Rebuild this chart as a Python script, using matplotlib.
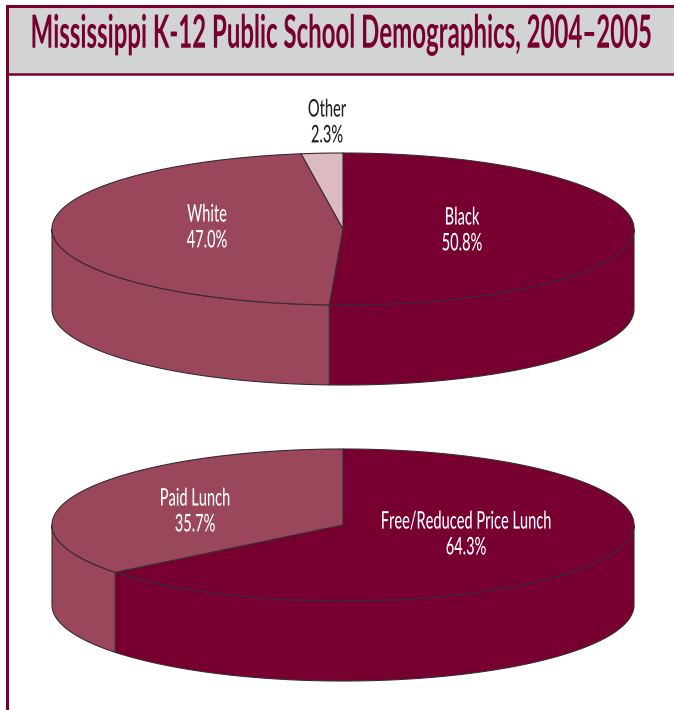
import numpy as np
import matplotlib
matplotlib.use("Agg")
import matplotlib.pyplot as plt
import matplotlib.patheffects as pe
from matplotlib.patches import Polygon, Rectangle
from matplotlib.text import Text
from matplotlib.transforms import Affine2D, Bbox

TITLE = "Mississippi K-12 Public School Demographics, 2004–2005"

race_names = ["Black", "White", "Other"]
race_values = [50.8, 47.0, 2.3]
lunch_names = ["Free/Reduced Price Lunch", "Paid Lunch"]
lunch_values = [64.3, 35.7]

DARK = "#780030"
MID = "#9A475C"
LIGHT = "#DDB9C0"
EDGE = "#3a2a30"
GRAY = "#D1D3D4"
FONT = ["Lato", "Liberation Sans", "DejaVu Sans"]

W, H = 674, 710
fig = plt.figure(figsize=(W / 100, H / 100), dpi=100)
ax = fig.add_axes([0, 0, 1, 1])
ax.set_xlim(0, W)
ax.set_ylim(H, 0)
ax.axis("off")


class Squeeze(pe.AbstractPathEffect):
    # растягивает глифы вокруг точки привязки текста (узкого шрифта нет)
    def __init__(self, text, sx, sy):
        super().__init__()
        self.text = text
        self.sx = sx
        self.sy = sy

    def draw_path(self, renderer, gc, tpath, affine, rgbFace=None):
        x0, y0 = self.text.get_transform().transform(self.text.get_position())
        squeeze = Affine2D().translate(-x0, -y0).scale(self.sx, self.sy).translate(x0, y0)
        renderer.draw_path(gc, tpath, affine + squeeze, rgbFace)


class NarrowText(Text):
    def __init__(self, *args, sx=1.0, sy=1.0, **kwargs):
        super().__init__(*args, **kwargs)
        self.sx = sx
        self.sy = sy
        self.set_path_effects([Squeeze(self, sx, sy)])

    def get_window_extent(self, renderer=None, dpi=None):
        bb = super().get_window_extent(renderer, dpi)
        x0, y0 = self.get_transform().transform(self.get_position())
        return Bbox([[x0 + (bb.x0 - x0) * self.sx, y0 + (bb.y0 - y0) * self.sy],
                     [x0 + (bb.x1 - x0) * self.sx, y0 + (bb.y1 - y0) * self.sy]])


def arc(cx, cy, rx, ry, a0, a1, n=200):
    # углы по часовой стрелке от верхней точки, в долях круга
    t = np.linspace(a0, a1, n) * 2 * np.pi
    return np.column_stack([cx + rx * np.sin(t), cy - ry * np.cos(t)])


def pie3d(cx, cy, rx, ry, depth, values, colors):
    total = sum(values)
    fracs = np.cumsum([0] + list(values)) / total

    # боковая стенка: только передняя половина эллипса (доли 0.25..0.75)
    for v0, v1, col in zip(fracs[:-1], fracs[1:], colors):
        a0, a1 = max(v0, 0.25), min(v1, 0.75)
        if a1 <= a0:
            continue
        top = arc(cx, cy, rx, ry, a0, a1)
        bottom = top[::-1] + [0, depth]
        ax.add_patch(Polygon(np.vstack([top, bottom]), closed=True, fc=col,
                             ec=EDGE, lw=0.8, joinstyle="round", zorder=2))

    # верхняя крышка
    for v0, v1, col in zip(fracs[:-1], fracs[1:], colors):
        rim = arc(cx, cy, rx, ry, v0, v1)
        ax.add_patch(Polygon(np.vstack([[cx, cy], rim]), closed=True, fc=col,
                             ec=EDGE, lw=0.8, joinstyle="round", zorder=3))


# рамка и заголовок
ax.add_patch(Rectangle((7, 6), W, 68, fc=GRAY, ec="none", zorder=1))
ax.plot([W, 7, 7], [6, 6, H], color=DARK, lw=2.2, solid_joinstyle="miter", zorder=5)
ax.plot([7, W], [74, 74], color=DARK, lw=1.8, zorder=5)
ax.add_artist(NarrowText(342, 34, TITLE, sx=0.96, sy=1.83, family=FONT, fontsize=18,
                         fontweight="bold", color=DARK, ha="center", va="center", zorder=6))

pie3d(343, 229, 291, 76, 80, race_values, [DARK, MID, LIGHT])
pie3d(343, 525, 291, 76, 80, lunch_values, [DARK, MID])


def label(x, y, name, val, color="white"):
    ax.add_artist(NarrowText(x, y, f"{name}\n{val:.1f}%", sx=0.6, family=FONT, fontsize=17.5,
                             fontweight="medium", color=color, ha="center", va="center",
                             linespacing=1.15, zorder=6))


label(462, 230, race_names[0], race_values[0])
label(207, 227, race_names[1], race_values[1])
label(327, 122, race_names[2], race_values[2], color="#222222")
label(466, 534, lunch_names[0], lunch_values[0])
label(195, 511, lunch_names[1], lunch_values[1])

fig.savefig("out.png", dpi=100)
